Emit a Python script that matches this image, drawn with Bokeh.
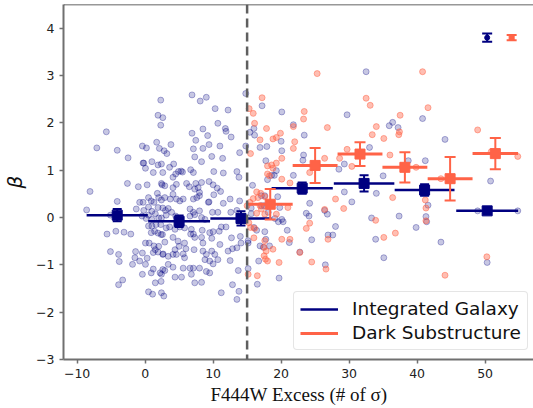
from bokeh.plotting import figure
from bokeh.models import (Range1d, FixedTicker, Span, Legend, LegendItem,
                          CustomJSTickFormatter, ColumnDataSource)
from bokeh.embed import file_html
from bokeh.resources import INLINE

# ---------------- data ----------------
THRESHOLD = 15.0

gal_x = [2.3, 1.9, 2.6, 2.3, -5.7, -7.1, -4.1, -0.4, 0.2, 1.7, 2.1, -2.5, -0.3, -0.2, 0.05, 1.0, 1.9, 1.2, 2.6,
         -2.6, -1.0, 0.3, 2.4, -8.1, -4.1, -0.8, -0.3, 0.5, 0.9, 1.3, 1.8, 2.0, 2.4, -8.6, -1.3, -0.2, 0.5, 1.0,
         1.9, -5.1,
         -5.6, -4.3, -3.1, -2.1, -5.1, -3.9, -3.8, -3.9, -3.3, -1.4, -1.5, -0.4, -0.8, -1.85, 0.05, 0.3, -0.4,
         0.5, 1.1, 1.5, 0.05, 0.6, 0.5, 1.0, 1.4, 0.9, 1.9, 2.35, 1.6, 2.3, 1.3, 1.5, 1.2, 2.0, 1.9, 2.6, 1.2,
         0.9, 2.2, 2.6, 2.35, 2.4, -0.45, 0.15, 1.0, 2.0, 0.5, 1.5,
         2.4, 3.1, 6.6, 7.3, 8.3, 8.8, 11.9, 10.9, 10.0, 9.5, 11.2, 2.55, 3.1, 3.6, 4.1, 4.4, 5.1, 5.8, 6.8,
         6.7, 7.1, 7.3, 8.4, 8.3, 2.9, 4.85, 5.8, 5.0, 4.4, 6.0, 7.2, 8.5, 9.8, 11.0, 12.2, 12.85, 14.1, 14.0,
         13.5, 2.65, 3.4, 4.1, 4.6, 5.6, 5.8, 8.5, 9.0, 9.8, 10.25, 9.5, 8.8, 10.7, 10.0, 12.5, 3.4, 4.1, 2.9,
         2.4, 5.6, 6.6, 7.1, 8.0, 9.0, 9.5, 6.8, 4.4, 5.35, 13.7, 7.3, 8.3, 12.85, 11.2, 13.8, 13.5, 2.75,
         12.7, 15.15,
         6.9, 8.1, 9.0, 10.3, 12.2, 14.8, 10.7, 11.8, 11.9, 12.65, 8.5, 6.9, 9.2, 7.45, 9.4, 11.0, 8.5, 7.1,
         3.8, 2.8, 3.2, 7.3, 8.3, 9.8, 11.4, 13.9, 4.2, 3.6, 6.7, 4.5, 4.9, 5.3, 5.5, 4.1, 7.1, 10.1, 11.5,
         13.5, 13.8, 2.5, 2.9, 4.1, 4.6, 6.1, 6.5, 7.45, 7.8, 8.3, 7.3, 8.0, 9.4, 10.0, 10.6, 11.1, 10.1, 4.1,
         5.6, 5.1, 4.6, 3.7, 2.9, 7.1, 7.6, 8.0, 9.3, 9.4, 12.5, 11.5, 13.9, 2.6, 3.0, 3.4, 6.6, 7.1, 8.0, 9.9,
         10.7, 12.6, 13.5, 3.9, 4.5, 14.8, 2.4,
         17.2, 20.1, 15.4, 16.0, 16.1, 16.9, 17.9, 20.0, 20.1, 17.75, 19.3, 18.6, 19.0, 18.0, 21.8, 23.4, 29.7,
         32.5, 35.9, 33.0, 23.3, 23.2, 21.8, 28.5, 29.3, 35.0, 15.8, 17.1, 17.6, 19.5, 24.2, 29.3, 30.4, 34.0,
         23.7, 24.1, 26.8, 19.6, 20.3, 20.1, 20.9, 28.0, 26.9, 27.6, 24.5, 21.2, 33.3, 33.9, 35.1, 26.5, 22.75,
         16.7, 19.7, 16.5, 15.15, 15.6, 16.0, 16.4, 17.6, 17.75, 16.9, 17.4, 18.3, 15.6, 17.1, 17.5, 18.1, 19.8,
         19.1, 26.4, 36.4, 37.2, 40.8, 44.1, 38.7, 41.2, 41.6, 41.3, 41.4, 37.35, 39.85, 43.5, 50.8, 50.3,
         54.8, 48.9, 15.15]
gal_y = [2.48, 2.16, 2.11, 1.95, 1.81, 1.47, 1.42, 1.51, 1.47, 1.59, 1.46, 1.26, 1.15, 1.15, 1.04, 1.18, 1.11,
         0.95, 0.95, 0.72, 0.65, 0.69, 0.72, 0.55, 0.34, 0.32, 0.32, 0.42, 0.35, 0.32, 0.51, 0.42, 0.37, 0.16,
         0.18, 0.15, 0.22, 0.13, 0.21, 0.05,
         -0.35, -0.29, -0.31, -0.35, -0.72, -0.78, -0.93, -1.42, -1.32, -0.72, -0.85, -0.75, -0.92, -0.99,
         -0.99, -0.86, -1.2, -1.57, -1.62, -1.38, -0.54, -0.54, -0.18, -0.18, -0.29, -0.32, -0.33, -0.36,
         -0.15, -0.15, -0.60, -0.68, -0.74, -0.61, -0.73, -0.78, -1.09, -1.17, -1.17, -1.10, -1.35, -1.59,
         0.03, -0.02, -0.04, -0.01, 0.05, 0.08,
         -0.01, 0.05, 0.03, 0.06, 0.0, -0.04, -0.2, -0.29, -0.30, -0.32, -0.2, -0.36, -0.22, -0.2, -0.42,
         -0.25, -0.2, -0.22, -0.25, -0.35, -0.35, -0.42, -0.27, -0.42, -0.52, -0.5, -0.54, -0.61, -0.68,
         -0.66, -0.68, -0.54, -0.44, -0.57, -0.71, -0.66, -0.54, -0.40, -0.64, -0.77, -0.82, -0.78, -0.78,
         -0.77, -0.85, -0.71, -0.78, -0.71, -0.78, -0.92, -0.89, -0.89, -0.98, -0.91, -0.99, -1.05, -1.12,
         -1.2, -1.07, -1.07, -1.07, -1.07, -1.14, -1.17, -1.2, -1.26, -1.26, -1.12, -1.38, -1.37, -1.42,
         -1.59, -1.56, -1.73, -1.66, -0.43, -0.54,
         2.59, 2.46, 2.54, 2.30, 2.27, 2.62, 1.99, 1.88, 1.82, 1.70, 1.87, 1.78, 1.73, 1.63, 1.54, 1.51, 1.46,
         1.45, 1.54, 1.41, 1.35, 1.28, 1.18, 1.29, 1.25, 1.37, 1.13, 1.06, 1.01, 0.92, 0.97, 0.98, 0.96, 0.85,
         0.95, 0.97, 0.94, 0.97, 0.85, 0.69, 0.67, 0.63, 0.70, 0.72, 0.65, 0.72, 0.63, 0.74, 0.60, 0.53, 0.76,
         0.69, 0.62, 0.55, 0.48, 0.49, 0.39, 0.35, 0.39, 0.39, 0.42, 0.39, 0.42, 0.46, 0.32, 0.33, 0.39, 0.30,
         0.35, 0.2, 0.15, 0.19, 0.18, 0.11, 0.14, 0.11, 0.11, 0.11, 0.15, 0.11, 0.03, 1.51, 1.13,
         2.36, 2.23, 1.80, 1.88, 1.74, 1.48, 1.50, 1.61, 1.41, 1.20, 0.99, 0.89, 0.89, 0.80, 1.96, 1.74, 2.17,
         3.08, 1.94, 1.48, 1.32, 1.21, 0.89, 1.02, 1.13, 0.88, 0.68, 0.46, 0.46, 0.44, 0.30, 0.54, 0.33, 0.51,
         0.09, 0.03, 0.07, -0.09, -0.09, -0.04, -0.27, -0.19, -0.37, -0.37, -0.47, -0.53, -0.01, -0.46, -0.85,
         -1.0, -0.73, -0.92, -1.28, -1.41, -1.08, 0.08, -0.21, -0.27, -0.30, -0.46, -0.6, -0.63, -0.6, 0.2,
         0.25, 0.25, 0.11, 0.21, -0.02, 0.15, 2.01, 1.90, 2.09, 1.65, 1.20, 1.20, 0.26, 0.02, -0.09, 0.03,
         -0.21, -0.52, 0.77, -0.95, 0.14, 0.14, -0.49]

sub_x = [25.3, 32.5, 33.1, 17.2, 15.3, 15.9, 16.1, 17.85, 23.4, 23.3, 21.8, 26.8, 19.9, 19.3, 18.8, 16.9, 15.5,
         22.0, 21.8, 20.1, 19.3, 18.6, 18.0, 18.8, 26.4, 28.6, 29.7, 30.4, 33.4, 34.0, 35.1, 18.0, 18.3, 20.1,
         21.3, 24.2, 16.4, 17.0, 17.6, 15.4, 16.6, 15.9, 21.0, 28.0, 29.2, 15.0, 16.9, 17.1, 17.6, 19.3, 16.4,
         15.25, 15.5, 16.1, 24.2, 23.7, 26.4, 33.9, 35.1, 21.3, 20.1, 18.8, 17.6, 17.5, 17.8, 17.5, 17.7, 18.0,
         19.7, 22.75, 24.5, 26.6, 26.9, 15.15, 16.5, 16.0,
         40.8, 41.6, 37.5, 37.4, 37.3, 48.9, 36.0, 39.85, 43.5, 54.8, 36.4, 41.2, 41.3, 41.3, 36.8, 50.25,
         44.1, 50.9]
sub_y = [3.04, 2.52, 2.37, 2.53, 2.30, 2.2, 1.99, 1.88, 2.24, 2.08, 1.92, 1.90, 1.78, 1.69, 1.66, 1.64, 1.35,
         1.60, 1.46, 1.25, 1.15, 1.11, 1.09, 1.04, 1.25, 1.25, 1.44, 1.08, 1.75, 1.92, 1.67, 0.92, 0.88, 0.81,
         0.73, 0.95, 0.54, 0.51, 0.44, 0.32, 0.42, 0.40, 0.21, 0.39, 0.19, 0.25, 0.25, 0.18, 0.07, 0.07, 0.09,
         -0.11, -0.21, -0.23, -0.12, -0.23, 0.17, -0.06, -0.42, -0.46, -0.46, -0.67, -0.49, -0.63, -0.71,
         -0.81, -0.88, -0.92, -0.95, -0.74, -0.94, -1.09, -0.46, -1.2, -1.23, -0.43,
         3.08, 2.32, 2.16, 1.81, 1.75, 1.85, 1.32, 1.06, 0.82, 1.29, 0.42, 0.37, 0.20, -0.07, -0.33, -0.83,
         -1.22, 1.39]

# binned means
gal_bin_x = [-4.1, 5.0, 14.1, 23.1, 32.2, 41.1, 50.3]
gal_bin_xerr = [4.5, 4.55, 4.5, 4.5, 4.45, 4.4, 4.55]
gal_bin_y = [0.05, -0.08, -0.02, 0.62, 0.72, 0.58, 0.14]
gal_bin_yerr = [0.13, 0.12, 0.15, 0.12, 0.17, 0.12, 0.05]

sub_bin_x = [18.4, 25.0, 31.6, 38.2, 44.85, 51.5]
sub_bin_xerr = [3.3, 3.3, 3.3, 3.3, 3.3, 3.35]
sub_bin_y = [0.28, 1.1, 1.34, 1.06, 0.82, 1.35]
sub_bin_yerr = [0.32, 0.37, 0.25, 0.32, 0.46, 0.33]

# representative single-point errors (top right)
rep_gal = dict(x=[50.3], y=[3.8], err=[0.085])
rep_sub = dict(x=[53.9], y=[3.8], err=[0.055])

X_RANGE = (-12.0, 57.26)
Y_RANGE = (-3.0, 4.5)
X_TICKS = [-10, 0, 10, 20, 30, 40, 50]
Y_TICKS = [-3, -2, -1, 0, 1, 2, 3, 4]

NAVY = "#000080"
TOMATO = "#ff6347"
SPINE = "#707070"

# ---------------- figure ----------------
p = figure(frame_width=471, frame_height=355, output_backend="svg", toolbar_location=None,
           x_range=Range1d(*X_RANGE), y_range=Range1d(*Y_RANGE),
           min_border_left=60, min_border_right=0, min_border_top=4, min_border_bottom=0)
p.xgrid.visible = False
p.ygrid.visible = False
p.outline_line_color = None
p.background_fill_color = "white"
p.border_fill_color = "white"

fmt = CustomJSTickFormatter(code="return tick < 0 ? '\u2212' + (-tick) : '' + tick;")
for ax in (p.xaxis[0], p.yaxis[0]):
    ax.axis_line_color = SPINE
    ax.axis_line_width = 2
    ax.major_tick_line_color = SPINE
    ax.major_tick_line_width = 1.5
    ax.major_tick_out = 4
    ax.major_tick_in = 0
    ax.minor_tick_line_color = None
    ax.major_label_text_font = "DejaVu Sans"
    ax.major_label_text_font_size = "12.5px"
    ax.major_label_text_color = "#222222"
    ax.major_label_standoff = 5
    ax.formatter = fmt
p.xaxis.ticker = FixedTicker(ticks=X_TICKS)
p.yaxis.ticker = FixedTicker(ticks=Y_TICKS)

p.xaxis.axis_label = "F444W Excess (# of σ)"
p.xaxis.axis_label_text_font = "Liberation Serif"
p.xaxis.axis_label_text_font_size = "19px"
p.xaxis.axis_label_text_font_style = "normal"
p.xaxis.axis_label_text_color = "#111111"
p.xaxis.axis_label_standoff = 3

p.yaxis.axis_label = "β"
p.yaxis.axis_label_text_font = "DejaVu Sans"
p.yaxis.axis_label_text_font_size = "20px"
p.yaxis.axis_label_text_font_style = "italic"
p.yaxis.axis_label_text_color = "#111111"
p.yaxis.axis_label_standoff = 6

# top spine
p.add_layout(Span(location=Y_RANGE[1], dimension="width", line_color="#333333", line_width=1.5))

# scatter
p.scatter(gal_x, gal_y, size=6, marker="circle", fill_color=NAVY, fill_alpha=0.22,
          line_color=NAVY, line_alpha=0.3, line_width=1)
p.scatter(sub_x, sub_y, size=6, marker="circle", fill_color=TOMATO, fill_alpha=0.42,
          line_color=TOMATO, line_alpha=0.5, line_width=1)

# threshold
p.add_layout(Span(location=THRESHOLD, dimension="height", line_color="#5f5f5f",
                  line_width=2.5, line_dash="9 5"))


def binned(xs, xe, ys, ye, color, msize, capsize, lw):
    src = ColumnDataSource(dict(x=xs, y=ys,
                                x0=[a - b for a, b in zip(xs, xe)], x1=[a + b for a, b in zip(xs, xe)],
                                y0=[a - b for a, b in zip(ys, ye)], y1=[a + b for a, b in zip(ys, ye)]))
    h = p.segment(x0="x0", y0="y", x1="x1", y1="y", source=src, line_color=color, line_width=lw)
    p.segment(x0="x", y0="y0", x1="x", y1="y1", source=src, line_color=color, line_width=2)
    p.scatter(x="x", y="y0", source=src, marker="dash", size=capsize, line_color=color, line_width=2)
    p.scatter(x="x", y="y1", source=src, marker="dash", size=capsize, line_color=color, line_width=2)
    p.scatter(x="x", y="y", source=src, marker="square", size=msize, fill_color=color, line_color=color)
    return h


h_gal = binned(gal_bin_x, gal_bin_xerr, gal_bin_y, gal_bin_yerr, NAVY, 10, 9, 2.5)
h_sub = binned(sub_bin_x, sub_bin_xerr, sub_bin_y, sub_bin_yerr, TOMATO, 10, 11, 3)

# representative error bars
for rep, col, mk, ms in ((rep_gal, NAVY, "circle", 5), (rep_sub, TOMATO, "square", 5)):
    src = ColumnDataSource(dict(x=rep["x"], y=rep["y"],
                                y0=[a - b for a, b in zip(rep["y"], rep["err"])],
                                y1=[a + b for a, b in zip(rep["y"], rep["err"])]))
    p.segment(x0="x", y0="y0", x1="x", y1="y1", source=src, line_color=col, line_width=2)
    p.scatter(x="x", y="y0", source=src, marker="dash", size=10, line_color=col, line_width=2)
    p.scatter(x="x", y="y1", source=src, marker="dash", size=10, line_color=col, line_width=2)
    p.scatter(x="x", y="y", source=src, marker=mk, size=ms, fill_color=col, line_color=col)

legend = Legend(items=[LegendItem(label="Integrated Galaxy", renderers=[h_gal]),
                       LegendItem(label="Dark Substructure", renderers=[h_sub])],
                location=(230, 9), margin=0, padding=6, spacing=3,
                label_standoff=14, glyph_width=38, glyph_height=20,
                label_text_font="DejaVu Sans", label_text_font_size="18.5px",
                label_text_color="#111111",
                border_line_color="#cccccc", border_line_width=1.2,
                border_radius=4, background_fill_alpha=0.85)
p.add_layout(legend)

open("out.html", "w").write(file_html(p, INLINE))
